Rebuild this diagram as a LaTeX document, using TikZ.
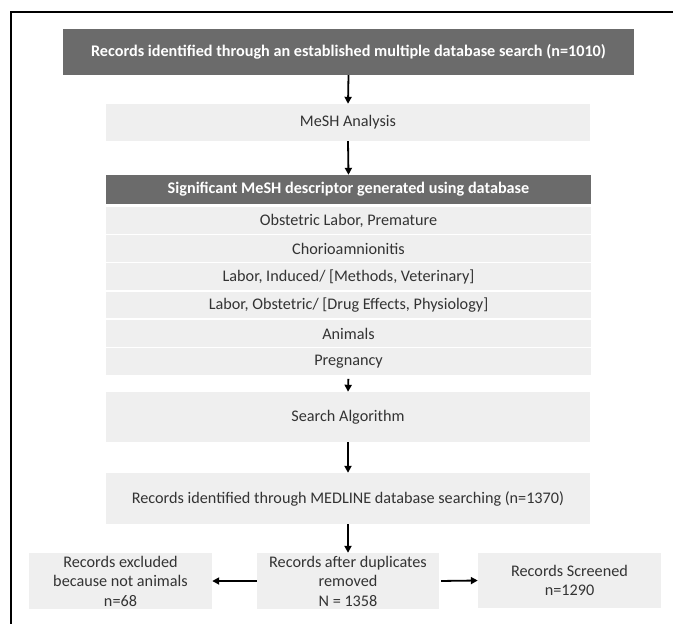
\documentclass[tikz,border=0pt]{standalone}
\usepackage{fontspec}
\setmainfont{Carlito}
\usetikzlibrary{arrows.meta,positioning}
\definecolor{darkbox}{HTML}{6B6B6B}
\definecolor{lightbox}{HTML}{EFEFEF}
\definecolor{boxtext}{HTML}{333333}
\tikzset{
  px/.style={x=1pt,y=-1pt},
  darkstyle/.style={fill=darkbox, draw=none, text=white, inner sep=0pt, font=\fontsize{16.2}{19}\selectfont\bfseries},
  lightstyle/.style={fill=lightbox, draw=none, text=boxtext, inner sep=0pt, font=\fontsize{16.2}{19.5}\selectfont, align=center},
  rowstyle/.style={lightstyle, minimum width=485pt, minimum height=26.5pt},
  flow/.style={line width=1.8pt, -{Triangle[length=7pt,width=7pt]}}
}
\begin{document}
\begin{tikzpicture}[px]
\useasboundingbox (0,0) rectangle (673,624);
% frame
\draw[line width=2.6pt] (673,12) -- (11,12) -- (11,624);
% boxes
\node[darkstyle, minimum width=571pt, minimum height=46pt] (top) at (348.5,52) {Records identified through an established multiple database search (n=1010)};
\node[lightstyle, minimum width=484pt, minimum height=37pt] (mesh) at (348,122.5) {MeSH Analysis};
\node[darkstyle, minimum width=485pt, minimum height=29pt] (sig) at (348.5,189.5) {Significant MeSH descriptor generated using database};
\node[rowstyle] (r1) at (348.5,220.5) {Obstetric Labor, Premature};
\node[rowstyle] (r2) at (348.5,248.5) {Chorioamnionitis};
\node[rowstyle] (r3) at (348.5,276.5) {Labor, Induced/ [Methods, Veterinary]};
\node[rowstyle] (r4) at (348.5,305) {Labor, Obstetric/ [Drug Effects, Physiology]};
\node[rowstyle] (r5) at (348.5,333.5) {Animals};
\node[rowstyle] (r6) at (348.5,361.5) {Pregnancy};
\node[lightstyle, minimum width=484pt, minimum height=50pt] (search) at (348,417) {Search Algorithm};
\node[lightstyle, minimum width=484pt, minimum height=51pt] (medline) at (348,498.5) {Records identified through MEDLINE database searching (n=1370)};
\node[lightstyle, minimum width=183pt, minimum height=56pt] (left) at (120.5,581) {Records excluded\\because not animals\\n=68};
\node[lightstyle, minimum width=182pt, minimum height=56pt] (mid) at (348,581) {Records after duplicates\\removed\\N = 1358};
\node[lightstyle, minimum width=183pt, minimum height=55pt] (right) at (569.5,580.5) {Records Screened\\n=1290};
% connectors
\draw[flow] (top.south) -- (mesh.north);
\draw[flow] (mesh.south) -- (sig.north);
\draw[flow, shorten <=4pt] (r6.south) -- (search.north);
\draw[flow] (search.south) -- (medline.north);
\draw[flow] (medline.south) -- (mid.north);
\draw[flow] (mid.west) -- (left.east);
\draw[flow, shorten <=2pt] (mid.east) -- (right.west);
\end{tikzpicture}
\end{document}
